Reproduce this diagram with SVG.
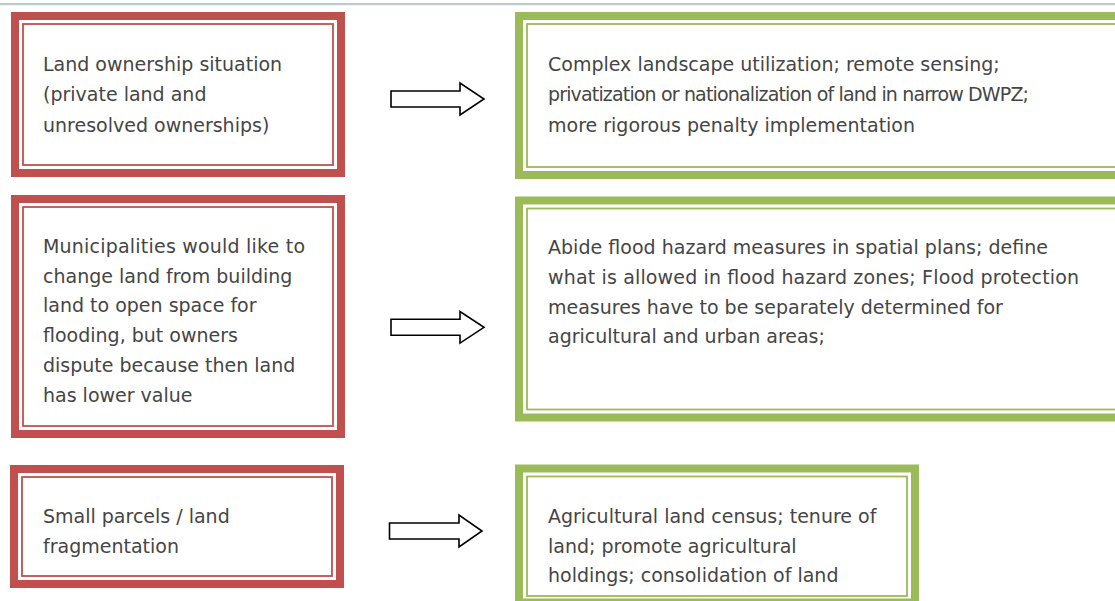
<svg xmlns="http://www.w3.org/2000/svg" width="1115" height="601" viewBox="0 0 1115 601">
<style>
.bg{fill:#ffffff}
.rt{fill:#ffffff;stroke:#c0504d;stroke-width:8}
.rn{fill:none;stroke:#c0504d;stroke-width:1.8}
.gt{fill:#ffffff;stroke:#9bbb59;stroke-width:8}
.gn{fill:none;stroke:#9bbb59;stroke-width:1.8}
.tx{font-family:"DejaVu Sans",Verdana,sans-serif;font-size:19px;fill:#454545}
.ar{fill:#ffffff;stroke:#000000;stroke-width:1.6;stroke-linejoin:miter}
</style>
<rect class="bg" x="0" y="0" width="1115" height="601"/>
<rect x="0" y="3" width="1115" height="2.2" fill="#bcc7d2"/>

<g id="problem1">
<rect class="rt" x="15" y="16" width="326" height="157"/>
<rect class="rn" x="23" y="24" width="310" height="141"/>
<text class="tx"><tspan x="43" y="71">Land ownership situation</tspan><tspan x="43" y="101.3">(private land and</tspan><tspan x="43" y="131.6">unresolved ownerships)</tspan></text>
</g>

<g id="problem2">
<rect class="rt" x="15" y="199" width="326" height="235"/>
<rect class="rn" x="23" y="207" width="310" height="219"/>
<text class="tx"><tspan x="43" y="252.7" textLength="262">Municipalities would like to</tspan><tspan x="43" y="282.5">change land from building</tspan><tspan x="43" y="312.3">land to open space for</tspan><tspan x="43" y="342.1">flooding, but owners</tspan><tspan x="43" y="371.9">dispute because then land</tspan><tspan x="43" y="401.7">has lower value</tspan></text>
</g>

<g id="problem3">
<rect class="rt" x="14" y="469" width="326" height="115"/>
<rect class="rn" x="22" y="477" width="310" height="99"/>
<text class="tx"><tspan x="43" y="523.3">Small parcels / land</tspan><tspan x="43" y="553">fragmentation</tspan></text>
</g>

<g id="solution1">
<rect class="gt" x="519" y="16" width="610" height="159"/>
<rect class="gn" x="527" y="24" width="600" height="143"/>
<text class="tx"><tspan x="548" y="70.5">Complex landscape utilization; remote sensing;</tspan><tspan x="548" y="101" textLength="481">privatization or nationalization of land in narrow DWPZ;</tspan><tspan x="548" y="131.5">more rigorous penalty implementation</tspan></text>
</g>

<g id="solution2">
<rect class="gt" x="519" y="200.5" width="610" height="217"/>
<rect class="gn" x="527" y="208.5" width="600" height="201"/>
<text class="tx"><tspan x="548" y="254" textLength="500">Abide flood hazard measures in spatial plans; define</tspan><tspan x="548" y="283.8" textLength="531">what is allowed in flood hazard zones; Flood protection</tspan><tspan x="548" y="313.6">measures have to be separately determined for</tspan><tspan x="548" y="343.4">agricultural and urban areas;</tspan></text>
</g>

<g id="solution3">
<rect class="gt" x="519" y="468.5" width="396" height="134"/>
<rect class="gn" x="527" y="476.5" width="380" height="119.5"/>
<text class="tx"><tspan x="548" y="523.3">Agricultural land census; tenure of</tspan><tspan x="548" y="552.8">land; promote agricultural</tspan><tspan x="548" y="582.3">holdings; consolidation of land</tspan></text>
</g>

<g id="connectors">
<path class="ar" d="M391,91 H460 V83 L484,99 L460,115 V107 H391 Z"/>
<path class="ar" d="M391,319.3 H460 V311.5 L484,327.3 L460,343.1 V335.3 H391 Z"/>
<path class="ar" d="M389.5,523 H459 V515 L482,531 L459,547 V539 H389.5 Z"/>
</g>
</svg>
